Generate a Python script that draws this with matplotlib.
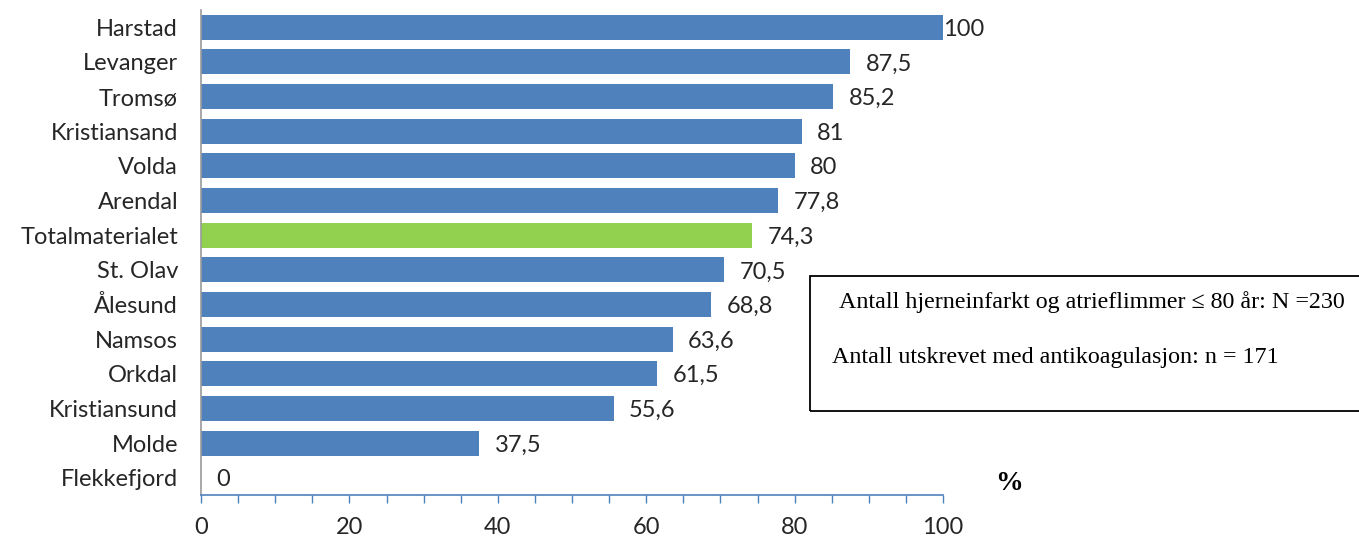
import matplotlib
matplotlib.use("Agg")
import matplotlib.pyplot as plt
from matplotlib.patches import Rectangle
from matplotlib.ticker import MultipleLocator

categories = ["Harstad", "Levanger", "Tromsø", "Kristiansand", "Volda", "Arendal",
              "Totalmaterialet", "St. Olav", "Ålesund", "Namsos", "Orkdal",
              "Kristiansund", "Molde", "Flekkefjord"]
values = [100, 87.5, 85.2, 81, 80, 77.8, 74.3, 70.5, 68.8, 63.6, 61.5, 55.6, 37.5, 0]
highlight = "Totalmaterialet"

box_line1 = "Antall hjerneinfarkt og atrieflimmer ≤ 80 år: N =230"
box_line2 = "Antall utskrevet med antikoagulasjon: n = 171"

blue = "#4F81BD"
green = "#92D050"
label_font = ["Lato", "DejaVu Sans"]
fs = 17

fig = plt.figure(figsize=(13.59, 5.38), dpi=100)
ax = fig.add_axes([201 / 1359, 1 - 495 / 538, 742 / 1359, 485 / 538])

y = list(range(len(categories)))[::-1]
colors = [green if c == highlight else blue for c in categories]
ax.barh(y, values, height=0.72, color=colors, edgecolor="none")

ax.set_xlim(0, 100)
ax.set_ylim(-0.5, len(categories) - 0.5)
ax.set_yticks(y)
ax.set_yticklabels(categories, fontsize=fs, color="#262626", family=label_font)
ax.tick_params(axis="y", length=0, pad=16.5)

ax.xaxis.set_major_locator(MultipleLocator(20))
ax.xaxis.set_minor_locator(MultipleLocator(5))
ax.tick_params(axis="x", which="both", direction="out", length=6, width=1,
               color=blue, pad=10, labelsize=fs, labelcolor="#262626")
for t in ax.get_xticklabels():
    t.set_family(label_font)

for s in ["top", "right"]:
    ax.spines[s].set_visible(False)
ax.spines["bottom"].set_color(blue)
ax.spines["bottom"].set_linewidth(1.2)
ax.spines["left"].set_color("#9a9a9a")
ax.spines["left"].set_linewidth(1.2)

for yi, v in zip(y, values):
    txt = str(v).replace(".", ",") if v != int(v) else str(int(v))
    off = 0 if v >= 100 else 11
    ax.annotate(txt, (v, yi), xytext=(off, -1.5), textcoords="offset points",
                va="center", ha="left", fontsize=fs, color="#262626",
                family=label_font)

fig.text(995 / 1359, 1 - 483 / 538, "%", fontsize=20, fontweight="bold",
         family="Liberation Serif", va="center", ha="left")

fig.patches.append(Rectangle((810 / 1359, 1 - 411 / 538), 0.5, 135 / 538,
                             transform=fig.transFigure, fill=False,
                             edgecolor="black", linewidth=1.3))
fig.text(1092 / 1359, 1 - 302 / 538, box_line1, fontsize=17.3,
         family="Liberation Serif", va="center", ha="center")
fig.text(832 / 1359, 1 - 357 / 538, box_line2, fontsize=17.3,
         family="Liberation Serif", va="center", ha="left")

fig.savefig("out.png", dpi=100)
